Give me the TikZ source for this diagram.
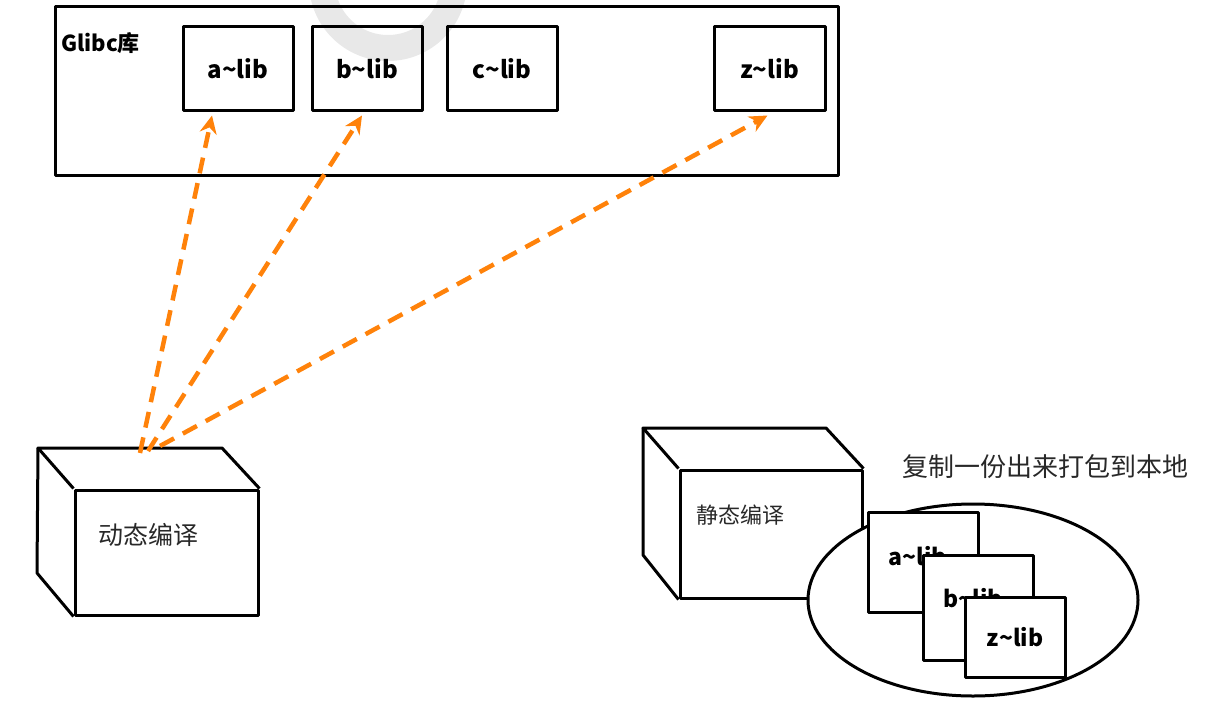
\documentclass[tikz,border=0pt]{standalone}
\usepackage{fontspec}
\setmainfont{Noto Sans CJK SC}
\usetikzlibrary{arrows.meta,calc}
\definecolor{arr}{RGB}{255,130,10}
\definecolor{txt}{RGB}{40,40,40}
\begin{document}
\begin{tikzpicture}[x=1pt,y=-1pt,
  boxline/.style={draw=black,line width=3pt,line join=round},
  libbox/.style={boxline,minimum width=110pt,minimum height=83pt,inner sep=0pt,font=\fontsize{24}{28}\selectfont\bfseries},
  smallbox/.style={boxline,fill=white,inner sep=0pt},
  cjk/.style={font=\fontsize{22}{26}\selectfont,text=txt,inner sep=0pt},
  libtxt/.style={font=\fontsize{23}{27}\selectfont\bfseries,inner sep=0pt},
  dep/.style={draw=arr,line width=4.5pt,dash pattern=on 16pt off 10pt,-{Stealth[length=18pt,width=17pt]}}
]
\useasboundingbox (0,0) rectangle (1222,709);
% watermark
\begin{scope}
\clip (0,0) rectangle (1222,709);
\draw[gray!18,line width=26pt] (388,-18) circle (66);
\end{scope}
% Glibc container
\node[boxline,minimum width=783pt,minimum height=168pt,inner sep=0pt] (glibc) at (446.5,91) {};
\node[libtxt,font=\fontsize{22}{26}\selectfont\bfseries,anchor=north west] (glabel) at (61,32) {Glibc库};
\node[libbox] (alib) at (238,68.5) {a\textasciitilde lib};
\node[libbox] (blib) at (367,68.5) {b\textasciitilde lib};
\node[libbox] (clib) at (502,68.5) {c\textasciitilde lib};
\node[libbox,minimum width=111pt] (zlib) at (769.5,68.5) {z\textasciitilde lib};
% dynamic cube
\node[boxline,minimum width=183pt,minimum height=125pt,inner sep=0pt] (dyn) at (166.5,552.5) {};
\draw[boxline] (dyn.north west) -- (38,448) -- (222,448) -- (dyn.north east);
\draw[boxline] (38,448) -- (37,573) -- (dyn.south west);
\node[cjk,font=\fontsize{25}{28}\selectfont] (dyntxt) at (148,535) {动态编译};
% static cube
\node[boxline,minimum width=182pt,minimum height=128pt,inner sep=0pt] (sta) at (771,534) {};
\draw[boxline] (sta.north west) -- (643,428) -- (826,428) -- (sta.north east);
\draw[boxline] (643,428) -- (643,555) -- (sta.south west);
\node[cjk] (statxt) at (740,515) {静态编译};
% copy ellipse
\node[cjk,font=\fontsize{26}{30}\selectfont] (copytxt) at (1045,467) {复制一份出来打包到本地};
\draw[boxline,fill=white] (973,600) ellipse [x radius=165,y radius=96];
\node (pack) at (973,600) {};
\node[smallbox,minimum width=110pt,minimum height=100pt] (sa) at (923,562) {};
\node[libtxt] (satxt) at (918,556) {a\textasciitilde lib};
\node[smallbox,minimum width=110pt,minimum height=105pt] (sb) at (978,607.5) {};
\node[libtxt] (sbtxt) at (973,598) {b\textasciitilde lib};
\node[smallbox,minimum width=100pt,minimum height=80pt,libtxt] (sz) at (1015,637) {z\textasciitilde lib};
% dependency arrows
\coordinate (d1) at (140,453);
\coordinate (d2) at (148,451);
\coordinate (d3) at (160,446);
\draw[dep] (d1) -- ($(alib.south)+(-26,4)$);
\draw[dep] (d2) -- ($(blib.south)+(-5,4)$);
\draw[dep] (d3) -- ($(zlib.south)+(-2,4)$);
\end{tikzpicture}
\end{document}
